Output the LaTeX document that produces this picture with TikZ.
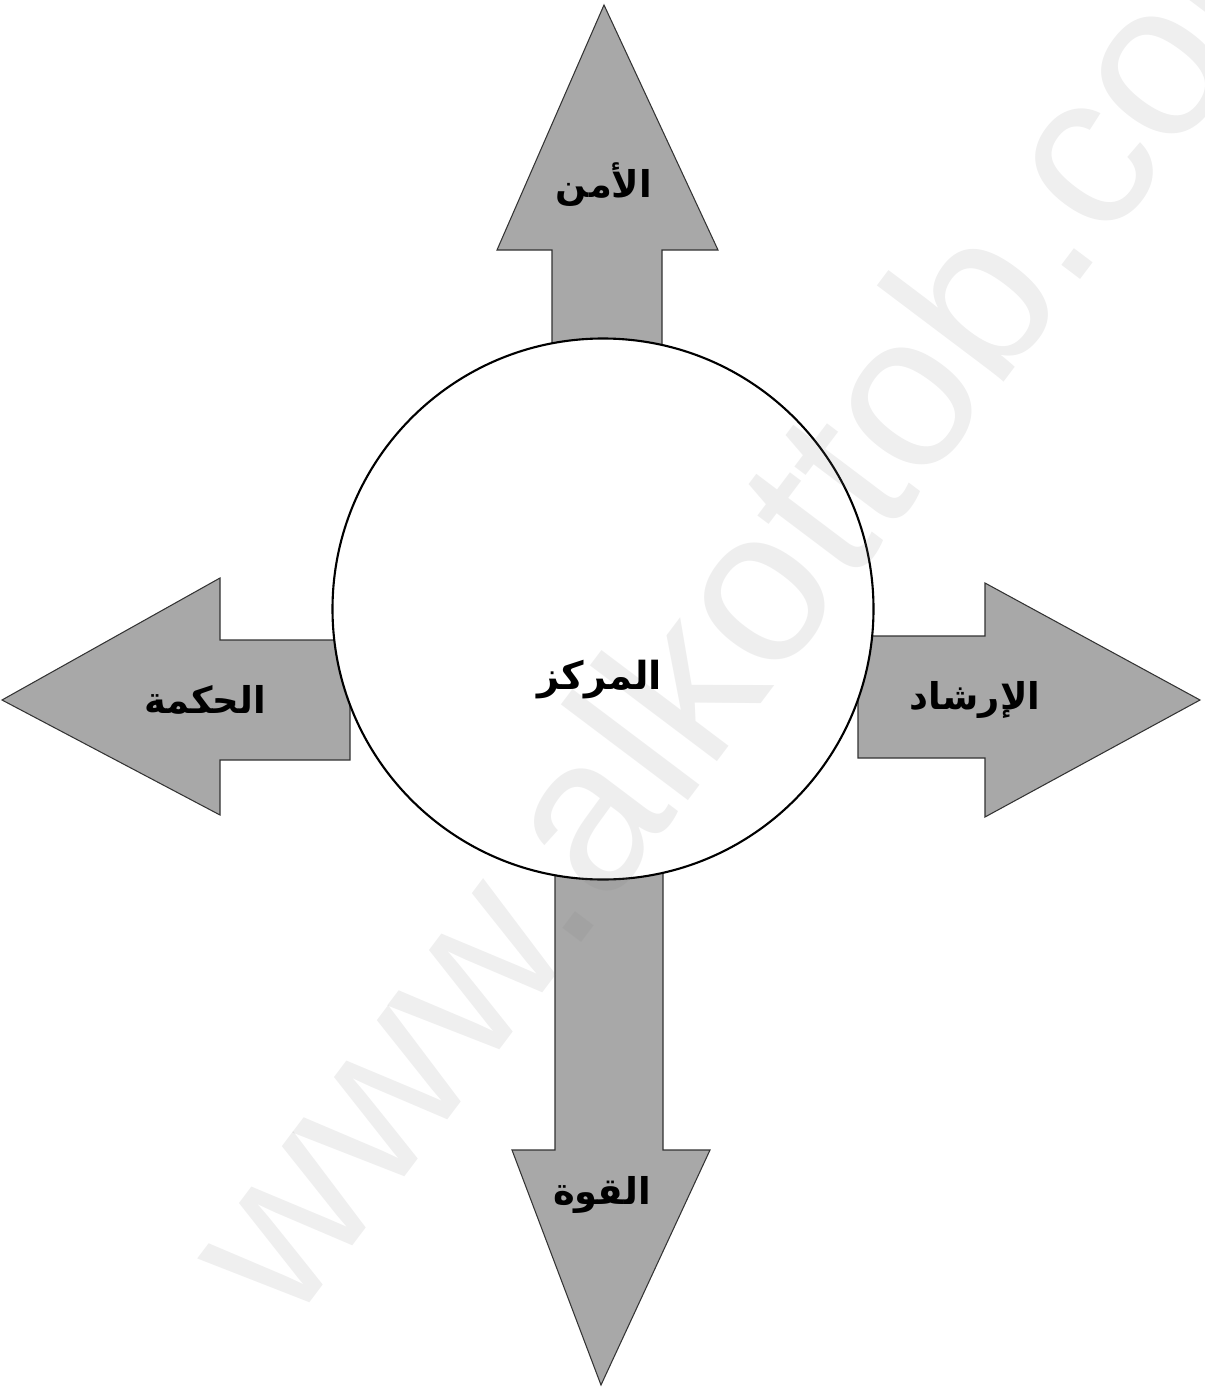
\documentclass[tikz,border=0pt]{standalone}
\usepackage{fontspec}
\newfontfamily\arabicfont[Script=Arabic]{DejaVu Sans}
\setsansfont{Liberation Sans}
\TeXXeTstate=1
\usepackage{tikz}
\usetikzlibrary{positioning}

\begin{document}
\begin{tikzpicture}[
        x=0.02cm, y=-0.02cm,
        every node/.style={font=\arabicfont\bfseries},
        bigarrow/.style={fill=gray!68, draw=gray!40!black, line width=0.6pt, line join=miter},
        hub/.style={circle, draw, fill=white, line width=1.2pt, minimum size=541*0.02cm, inner sep=0pt},
        lbl/.style={font=\arabicfont\bfseries\fontsize{21}{25}\selectfont}
    ]
    \useasboundingbox (0,0) rectangle (1204,1392);

    % Arrows
    \draw[bigarrow] (552,395) -- (552,250) -- (497,250) -- (604,5) -- (718,250) -- (662,250) -- (662,395) -- cycle;
    \draw[bigarrow] (555,860) -- (555,1150) -- (512,1150) -- (601,1385) -- (710,1150) -- (663,1150) -- (663,860) -- cycle;
    \draw[bigarrow] (350,640) -- (220,640) -- (220,578) -- (2,700) -- (220,815) -- (220,760) -- (350,760) -- cycle;
    \draw[bigarrow] (858,636) -- (985,636) -- (985,583) -- (1200,700) -- (985,817) -- (985,758) -- (858,758) -- cycle;

    % Center
    \node[hub] (center) at (603,609) {};

    % Watermark
    \node[rotate=53, text=gray, text opacity=0.13, font=\sffamily\fontsize{125}{130}\selectfont] (mark) at (760,575) {www.alkottob.com};

    % Labels
    \node[font=\arabicfont\bfseries\fontsize{22}{26}\selectfont] (centerlbl) at (600,680) {\beginR المركز\endR};
    \node[lbl] (top) at (604,185) {\beginR الأمن\endR};
    \node[lbl] (left) at (205,700) {\beginR الحكمة\endR};
    \node[lbl] (right) at (975,700) {\beginR الإرشاد\endR};
    \node[lbl] (bottom) at (602,1195) {\beginR القوة\endR};
\end{tikzpicture}
\end{document}
